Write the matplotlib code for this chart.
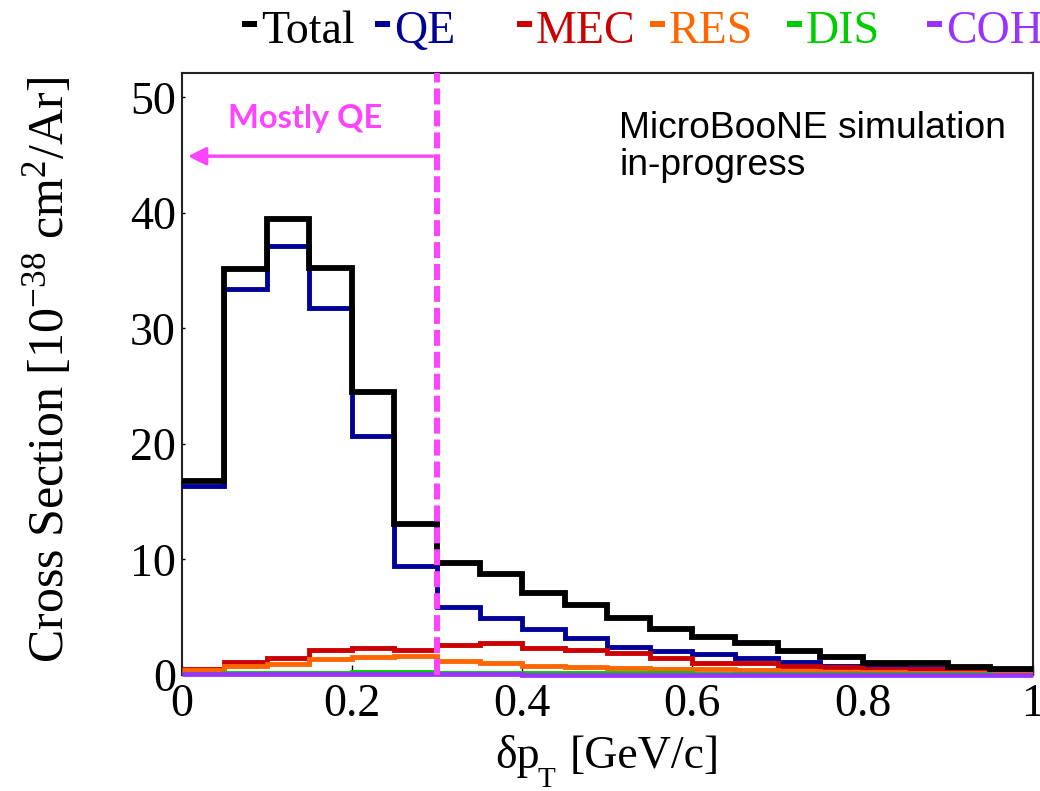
import matplotlib

matplotlib.use("Agg")
import matplotlib.pyplot as plt
from matplotlib.patches import Rectangle
import numpy as np

# delta pT bin edges (GeV/c) and cross sections per channel [1e-38 cm^2/Ar]
bin_edges = [0.00, 0.05, 0.10, 0.15, 0.20, 0.25, 0.30, 0.35, 0.40, 0.45, 0.50,
             0.55, 0.60, 0.65, 0.70, 0.75, 0.80, 0.85, 0.90, 0.95, 1.00]
total = [16.8, 35.1, 39.5, 35.2, 24.5, 13.1, 9.7, 8.7, 7.1, 6.1,
         4.9, 3.95, 3.26, 2.8, 2.08, 1.53, 1.07, 1.07, 0.66, 0.49]
qe = [16.35, 33.4, 37.1, 31.8, 20.7, 9.4, 5.9, 4.9, 4.0, 3.2,
      2.45, 2.1, 1.85, 1.5, 1.1, 0.8, 0.7, 0.6, 0.45, 0.35]
mec = [0.55, 1.12, 1.5, 2.16, 2.36, 2.16, 2.6, 2.8, 2.3, 2.16,
       1.87, 1.44, 1.07, 1.0, 0.78, 0.66, 0.55, 0.5, 0.37, 0.3]
res = [0.39, 0.78, 0.95, 1.35, 1.53, 1.64, 1.24, 1.07, 0.81, 0.72,
       0.63, 0.55, 0.5, 0.43, 0.37, 0.3, 0.25, 0.2, 0.15, 0.12]
dis = [0.1, 0.2, 0.2, 0.2, 0.22, 0.22, 0.2, 0.2, 0.2, 0.18,
       0.15, 0.14, 0.12, 0.1, 0.1, 0.08, 0.07, 0.06, 0.05, 0.04]
coh = [0.06, 0.06, 0.06, 0.05, 0.05, 0.05, 0.05, 0.05, 0.04, 0.04,
       0.04, 0.04, 0.03, 0.03, 0.03, 0.03, 0.02, 0.02, 0.02, 0.02]

legend_names = ["Total", "QE", "MEC", "RES", "DIS", "COH"]
legend_colors = ["black", "#000099", "#cc0000", "#ff6600", "#00cc00", "#9933ff"]
legend_x = [242, 375, 517, 650, 787, 927]  # marker left edge, px

x_ticks = [0, 0.2, 0.4, 0.6, 0.8, 1.0]
x_tick_labels = ["0", "0.2", "0.4", "0.6", "0.8", "1"]
y_ticks = [0, 10, 20, 30, 40, 50]

qe_cut = 0.3
magenta = "#ff44ff"

plt.rcParams["font.family"] = ["Liberation Serif", "DejaVu Serif"]
plt.rcParams["mathtext.fontset"] = "custom"
plt.rcParams["mathtext.rm"] = "Liberation Serif"
plt.rcParams["mathtext.default"] = "regular"
plt.rcParams["lines.scale_dashes"] = False

W, H = 1040, 791
fig = plt.figure(figsize=(W / 100, H / 100), dpi=100)
ax = fig.add_axes([181.5 / W, 1 - 675 / H, (1033 - 181.5) / W, (675 - 73) / H])

edges = np.array(bin_edges)
ax.stairs(qe, edges, baseline=None, color=legend_colors[1], lw=3.5, zorder=3)
ax.stairs(mec, edges, baseline=None, color=legend_colors[2], lw=3.5, zorder=3)
ax.stairs(res, edges, baseline=None, color=legend_colors[3], lw=3.5, zorder=3)
ax.stairs(dis, edges, baseline=None, color=legend_colors[4], lw=3.5, zorder=3)
ax.stairs(coh, edges, baseline=None, color=legend_colors[5], lw=3.4, zorder=4,
          clip_on=False)
ax.stairs(total, edges, baseline=None, color=legend_colors[0], lw=4.2, zorder=5)

ax.axvline(qe_cut, color=magenta, lw=4.3, dashes=(11.5, 4.3), zorder=6)
ax.annotate("", xy=(0.0076, 44.9), xytext=(qe_cut - 0.005, 44.9),
            arrowprops=dict(arrowstyle="-|>", color=magenta, lw=2.4,
                            mutation_scale=27, shrinkA=0, shrinkB=0))
ax.text(0.145, 47.36, "Mostly QE", color=magenta, fontsize=23.5,
        fontweight="bold", family="Lato", ha="center", va="baseline")

ax.set_xlim(0, 1)
ax.set_ylim(0, 52.1)
ax.set_xticks(x_ticks)
ax.set_xticklabels(x_tick_labels)
ax.set_yticks(y_ticks)
ax.tick_params(axis="both", direction="in", labelsize=33, width=1.0)
ax.tick_params(axis="x", length=7, pad=6)
ax.tick_params(axis="y", length=2.5, pad=4)
for sp in ax.spines.values():
    sp.set_linewidth(1.5)
    sp.set_color("#222222")

# y title placed in figure pixels, left of the tick labels
fig.text(48 / W, 1 - 370 / H, "Cross Section [10$^{-38}$ cm$^{2}$/Ar]",
         fontsize=36, rotation=90, ha="center", va="center")

# x title built in pieces so the T subscript sits low
fig.text(495 / W, 1 - 768 / H, "\u03b4p", fontsize=33, ha="left", va="baseline")
fig.text(538 / W, 1 - 787 / H, "T", fontsize=21, ha="left", va="baseline")
fig.text(570 / W, 1 - 768 / H, "[GeV/c]", fontsize=33, ha="left", va="baseline")

fig.text(619 / W, 1 - 138 / H, "MicroBooNE simulation", fontsize=26.8,
         family="Liberation Sans", ha="left", va="baseline")
fig.text(619 / W, 1 - 175 / H, "in-progress", fontsize=26.8,
         family="Liberation Sans", ha="left", va="baseline")

# legend row across the top
for name, col, x0 in zip(legend_names, legend_colors, legend_x):
    fig.add_artist(Rectangle((x0 / W, 1 - 26.7 / H), 15 / W, 6 / H,
                             transform=fig.transFigure, color=col, lw=0))
    fig.text((x0 + 19) / W, 1 - 43.3 / H, name, color=col, fontsize=33,
             ha="left", va="baseline")

fig.savefig("out.png", dpi=100)
